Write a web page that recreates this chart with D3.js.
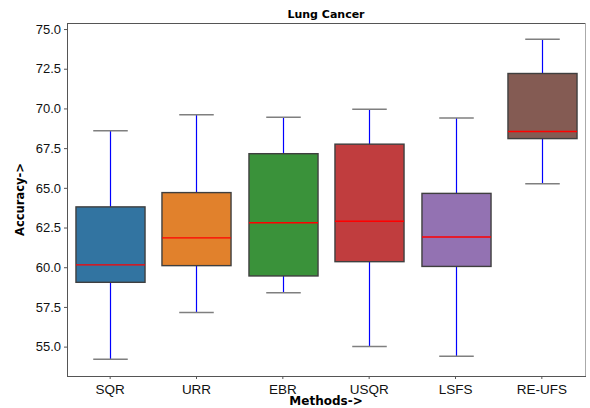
<!DOCTYPE html>
<html>
<head>
<meta charset="utf-8">
<script src="https://cdn.jsdelivr.net/npm/d3@7"></script>
<style>
  body { margin: 0; background: #fff; }
  svg { font-family: "DejaVu Sans", sans-serif; }
</style>
</head>
<body>
<div class="graph_box"></div>
<script>
// methods on the x axis
const methods = ["SQR", "URR", "EBR", "USQR", "LSFS", "RE-UFS"];
// five-number summaries
const whiskerLow  = [54.2, 57.15, 58.4, 55.0, 54.4, 65.25];
const boxLow      = [59.05, 60.1, 59.45, 60.35, 60.05, 68.1];
const medians     = [60.15, 61.85, 62.8, 62.9, 61.9, 68.55];
const boxHigh     = [63.8, 64.7, 67.15, 67.75, 64.65, 72.2];
const whiskerHigh = [68.6, 69.6, 69.45, 69.95, 69.4, 74.35];
const boxColors = ["#3274a1", "#e1812c", "#3a923a", "#c03d3e", "#9372b2", "#845b53"];
const yTicks = [55, 57.5, 60, 62.5, 65, 67.5, 70, 72.5, 75];

function draw_boxes() {
    const width = 590, height = 408;
    const margin = {top: 23, bottom: 32, left: 67, right: 5};

    const data = methods.map((m, i) => ({
        method: m,
        lo: whiskerLow[i], q1: boxLow[i], med: medians[i], q3: boxHigh[i], hi: whiskerHigh[i],
        color: boxColors[i]
    }));

    const svg = d3.select(".graph_box").append("svg")
        .attr("width", width).attr("height", height);

    const x = d3.scaleBand()
        .domain(methods)
        .range([margin.left, width - margin.right]);

    const y = d3.scaleLinear()
        .domain([53.15, 75.38])
        .range([height - margin.bottom, margin.top]);

    const boxW = x.bandwidth() * 0.8;
    const capW = boxW / 2;
    // snap the centre so 1px whiskers stay crisp
    const cx = m => Math.round(x(m) + x.bandwidth() / 2) + 0.5;

    const g = svg.append("g");
    const item = g.selectAll("g")
        .data(data)
        .join("g")
        .attr("transform", d => `translate(${cx(d.method)},0)`);

    // whiskers
    item.append("line")
        .attr("x1", 0).attr("x2", 0)
        .attr("y1", d => y(d.hi)).attr("y2", d => y(d.q3))
        .attr("stroke", "#0000ff").attr("stroke-width", 1.2);
    item.append("line")
        .attr("x1", 0).attr("x2", 0)
        .attr("y1", d => y(d.q1)).attr("y2", d => y(d.lo))
        .attr("stroke", "#0000ff").attr("stroke-width", 1.2);

    // caps
    item.selectAll("line.cap")
        .data(d => [d.hi, d.lo])
        .join("line")
        .attr("class", "cap")
        .attr("x1", -capW / 2).attr("x2", capW / 2)
        .attr("y1", v => y(v)).attr("y2", v => y(v))
        .attr("stroke", "#7f7f7f").attr("stroke-width", 1.5);

    // boxes
    item.append("rect")
        .attr("x", -boxW / 2)
        .attr("width", boxW)
        .attr("y", d => y(d.q3))
        .attr("height", d => y(d.q1) - y(d.q3))
        .attr("fill", d => d.color)
        .attr("stroke", "#3f3f3f")
        .attr("stroke-width", 1.4);

    // medians
    item.append("line")
        .attr("x1", -boxW / 2).attr("x2", boxW / 2)
        .attr("y1", d => y(d.med)).attr("y2", d => y(d.med))
        .attr("stroke", "#ff0000").attr("stroke-width", 1.4);

    // frame
    svg.append("rect")
        .attr("x", margin.left + 0.5).attr("y", margin.top + 0.5)
        .attr("width", width - margin.left - margin.right)
        .attr("height", height - margin.top - margin.bottom)
        .attr("fill", "none").attr("stroke", "#555").attr("stroke-width", 1);
    svg.append("line")
        .attr("x1", width - margin.right + 0.5).attr("x2", width - margin.right + 0.5)
        .attr("y1", margin.top).attr("y2", height - margin.bottom)
        .attr("stroke", "#aaa").attr("stroke-width", 1);

    // axes
    const xAxis = d3.axisBottom(x).tickSize(3).tickPadding(5);
    const gx = svg.append("g")
        .attr("transform", `translate(0,${height - margin.bottom})`)
        .call(xAxis);
    gx.select(".domain").remove();
    gx.selectAll("line").attr("stroke", "#555");
    gx.selectAll("text").attr("font-size", 13.5).attr("fill", "#111");

    const yAxis = d3.axisLeft(y).tickValues(yTicks).tickFormat(d3.format(".1f")).tickSize(3).tickPadding(3);
    const gy = svg.append("g")
        .attr("transform", `translate(${margin.left},0)`)
        .call(yAxis);
    gy.select(".domain").remove();
    gy.selectAll("line").attr("stroke", "#555");
    gy.selectAll("text").attr("font-size", 13).attr("fill", "#111");

    // titles
    svg.append("text")
        .attr("x", margin.left + (width - margin.left - margin.right) / 2)
        .attr("y", 18)
        .attr("text-anchor", "middle")
        .attr("font-size", 11).attr("font-weight", "bold")
        .text("Lung Cancer");

    svg.append("text")
        .attr("x", margin.left + (width - margin.left - margin.right) / 2)
        .attr("y", 405)
        .attr("text-anchor", "middle")
        .attr("font-size", 12).attr("font-weight", "bold")
        .text("Methods->");

    svg.append("text")
        .attr("transform", `translate(24,${margin.top + (height - margin.top - margin.bottom) / 2}) rotate(-90)`)
        .attr("text-anchor", "middle")
        .attr("font-size", 11.5).attr("font-weight", "bold")
        .text("Accuracy->");
}

draw_boxes();
</script>
</body>
</html>
